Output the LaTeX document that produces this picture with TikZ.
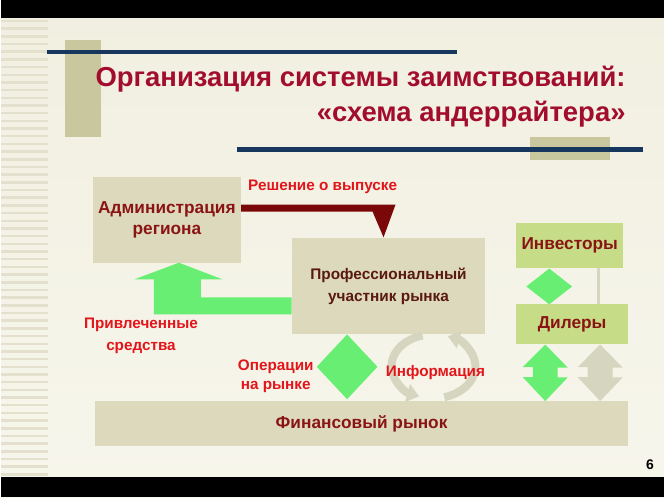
\documentclass[tikz,border=0pt]{standalone}
\usepackage{fontspec}
\setmainfont{Liberation Sans}
\usetikzlibrary{positioning, shapes.geometric, arrows.meta}

\definecolor{bgtop}{HTML}{F1EFE0}
\definecolor{bgbottom}{HTML}{F7F6EC}
\definecolor{stripe}{HTML}{E3E1CD}
\definecolor{olive}{HTML}{C8C79E}
\definecolor{navy}{HTML}{17375E}
\definecolor{titlered}{HTML}{A30D2D}
\definecolor{boxbeige}{HTML}{DCD9BC}
\definecolor{boxgreen}{HTML}{C6DC86}
\definecolor{boxtext}{HTML}{8A1414}
\definecolor{proftext}{HTML}{5A1812}
\definecolor{labelred}{HTML}{E3151B}
\definecolor{maroon}{HTML}{7A0808}
\definecolor{arrowgreen}{HTML}{68EE72}
\definecolor{arrowgrey}{HTML}{D6D6C0}

\begin{document}
\begin{tikzpicture}[x=1pt, y=-1pt,
     node distance = 3mm and 3mm,
      beigebox/.style = {rectangle, fill=boxbeige, inner sep=0pt, align=center,
                         text=boxtext, font=\bfseries\fontsize{17.3}{21}\selectfont},
      greenbox/.style = {rectangle, fill=boxgreen, inner sep=0pt, align=center,
                         text=boxtext, font=\bfseries\fontsize{17.3}{21}\selectfont},
     labeltext/.style = {text=labelred, align=center,
                         font=\bfseries\fontsize{15.3}{22}\selectfont},
      gdiamond/.style = {diamond, fill=arrowgreen, inner sep=0pt},
       infoarc/.style = {arrowgrey, line width=8pt,
                         -{Triangle[width=18pt, length=12pt]}}
                        ]
% background and frame
\shade[top color=bgtop, bottom color=bgbottom] (0,0) rectangle (664,498);
\foreach \y in {21,28.7,...,476}
  \draw[stripe, line width=2.5pt] (0,\y) -- (47,\y);
\fill[black] (0,0) rectangle (664,18);
\fill[black] (0,478) rectangle (664,498);
\fill[olive] (64,40) rectangle (100,137);
\fill[olive] (530,137) rectangle (610,160);
\draw[navy, line width=4.5pt] (46,52) -- (457,52);
\draw[navy, line width=4.5pt] (236,150) -- (643,150);

\node (title) [anchor=north east, align=right, text=titlered,
               font=\bfseries\fontsize{27.5}{35}\selectfont]
      at (629,63) {Организация системы заимствований:\\«схема андеррайтера»};

% boxes
\node (admin)   [beigebox, minimum width=148pt, minimum height=86pt] at (166,220)
      {Администрация\\региона};
\node (prof)    [beigebox, minimum width=194pt, minimum height=97pt, text=proftext,
                 font=\bfseries\fontsize{15.4}{22}\selectfont] at (388,286.5)
      {Профессиональный\\участник рынка};
\node (market)  [beigebox, minimum width=534pt, minimum height=45pt] at (361,424.5)
      {Финансовый рынок};
\node (invest)  [greenbox, minimum width=107pt, minimum height=45pt] at (569.5,245.5)
      {Инвесторы};
\node (dealers) [greenbox, minimum width=112pt, minimum height=40pt] at (572,325)
      {Дилеры};

% connectors
\fill[maroon] (admin.east |- 0,205) -- (395,205) -- (prof.north -| 383,0)
      -- (372,212) -- (admin.east |- 0,212) -- cycle;
\fill[arrowgreen] (prof.west |- 0,298) -- (200,298) -- (200,280) -- (222,280)
      -- (admin.south -| 178,0) -- (133,280) -- (153,280) -- (153,315)
      -- (prof.west |- 0,315) -- cycle;
\node (ops)  [gdiamond, minimum width=61pt, minimum height=65pt] at (346.5,367.5) {};
\node (link) [gdiamond, minimum width=46pt, minimum height=36pt] at (549,287) {};
\draw[arrowgrey, line width=3pt] (invest.south -| 598,0) -- (dealers.north -| 598,0);
\foreach \cx/\col in {545/arrowgreen, 600/arrowgrey}
  \fill[\col] (dealers.south -| \cx,0) -- ++(22.5,23) -- ++(-10,0) -- ++(0,10)
      -- ++(10,0) -- (market.north -| \cx,0) -- ++(-22.5,-24) -- ++(10,0)
      -- ++(0,-10) -- ++(-10,0) -- cycle;
\draw[infoarc] (422.1,336.1) arc[start angle=105, end angle=250, x radius=42pt, y radius=32pt];
\draw[infoarc] (443.9,397.9) arc[start angle=285, end angle=430, x radius=42pt, y radius=32pt];

% labels
\node (decision) [labeltext] at (322,187) {Решение о выпуске};
\node (raised)   [labeltext] at (140,336) {Привлеченные\\средства};
\node (trade)    [labeltext, font=\bfseries\fontsize{15.3}{19}\selectfont] at (275,376.5)
      {Операции\\на рынке};
\node (info)     [labeltext] at (435,373) {Информация};
\node (page)     [font=\bfseries\fontsize{14}{17}\selectfont] at (650,466) {6};
\end{tikzpicture}
\end{document}
